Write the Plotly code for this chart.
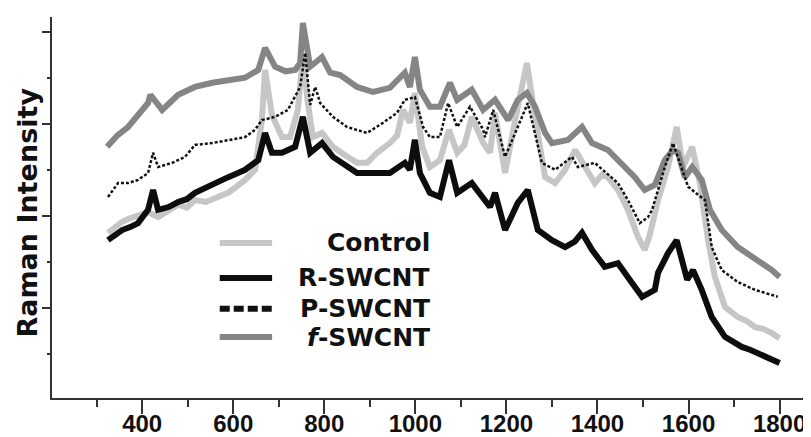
"""Raman spectra of control and SWCNT samples."""

import plotly.graph_objects as go

# Raman shift (cm-1) and intensity (a.u.), one pair per series
control_x = [325, 340, 356, 372, 391, 413, 435, 458, 479, 498, 516, 540, 565,
             589, 608, 626, 648, 663, 670, 685, 707, 725, 742, 753, 763, 775,
             795, 819, 845, 872, 894, 916, 944, 960, 973, 988, 999, 1015, 1032,
             1054, 1074, 1092, 1108, 1124, 1149, 1164, 1175, 1197, 1225, 1245,
             1263, 1285, 1307, 1329, 1351, 1373, 1394, 1410, 1423, 1445, 1467,
             1489, 1504, 1515, 1533, 1555, 1574, 1588, 1608, 1625, 1643, 1658,
             1680, 1708, 1730, 1746, 1765, 1783, 1800]
control_y = [3.59, 3.70, 3.83, 3.90, 3.98, 4.04, 3.93, 4.08, 4.20, 4.14, 4.30,
             4.26, 4.38, 4.46, 4.60, 4.74, 4.96, 6.04, 7.13, 6.15, 5.67, 5.67,
             6.26, 7.46, 6.48, 5.67, 5.76, 5.46, 5.28, 5.11, 5.11, 5.33, 5.54,
             5.70, 6.26, 5.98, 6.63, 5.46, 5.02, 5.17, 5.83, 5.33, 5.50, 6.11,
             5.54, 5.33, 6.20, 4.89, 6.33, 7.28, 6.11, 4.80, 4.67, 4.96, 5.39,
             5.02, 4.67, 4.85, 4.80, 4.52, 4.09, 3.50, 3.22, 3.55, 4.30, 5.02,
             5.89, 5.02, 5.46, 4.67, 3.43, 2.63, 1.98, 1.76, 1.66, 1.54, 1.50,
             1.41, 1.30]

r_x = [325, 347, 356, 375, 391, 413, 424, 435, 458, 479, 498, 516, 535, 554,
       572, 589, 608, 626, 655, 670, 685, 707, 736, 753, 769, 795, 819, 850,
       872, 907, 944, 977, 988, 999, 1010, 1032, 1054, 1074, 1092, 1124, 1145,
       1164, 1175, 1197, 1225, 1247, 1269, 1300, 1329, 1350, 1366, 1388, 1416,
       1445, 1476, 1498, 1526, 1533, 1555, 1574, 1597, 1610, 1629, 1651, 1680,
       1700, 1717, 1735, 1752, 1775, 1800]
r_y = [3.43, 3.61, 3.65, 3.72, 3.80, 4.09, 4.52, 4.09, 4.15, 4.26, 4.32, 4.46,
       4.55, 4.67, 4.72, 4.80, 4.88, 4.96, 5.17, 5.76, 5.33, 5.33, 5.46, 6.11,
       5.33, 5.54, 5.24, 5.02, 4.89, 4.89, 4.89, 5.11, 4.96, 5.61, 4.89, 4.46,
       4.37, 5.17, 4.46, 4.67, 4.40, 4.15, 4.46, 3.65, 4.24, 4.52, 3.65, 3.43,
       3.28, 3.40, 3.59, 3.22, 2.85, 2.93, 2.50, 2.20, 2.35, 2.72, 3.15, 3.43,
       2.57, 2.78, 2.35, 1.76, 1.33, 1.22, 1.11, 1.05, 0.98, 0.88, 0.76]

p_x = [325, 347, 369, 391, 413, 424, 435, 466, 494, 516, 554, 589, 626, 648,
       663, 692, 720, 747, 758, 769, 780, 791, 819, 850, 894, 929, 960, 977,
       999, 1017, 1032, 1054, 1072, 1092, 1120, 1149, 1153, 1171, 1197, 1225,
       1247, 1278, 1307, 1344, 1357, 1394, 1445, 1467, 1493, 1511, 1520, 1548,
       1566, 1599, 1636, 1651, 1673, 1708, 1746, 1796]
p_y = [4.37, 4.67, 4.67, 4.74, 4.89, 5.33, 5.02, 5.11, 5.24, 5.50, 5.54, 5.61,
       5.67, 5.83, 6.04, 6.11, 6.26, 6.76, 7.50, 6.37, 6.76, 6.41, 6.11, 5.89,
       5.76, 5.98, 6.20, 6.48, 6.54, 5.89, 5.67, 5.67, 6.41, 5.89, 6.33, 5.83,
       5.67, 6.26, 5.24, 5.89, 6.41, 5.11, 4.96, 5.24, 5.02, 5.11, 4.67, 4.30,
       3.80, 3.93, 4.09, 5.02, 5.54, 4.59, 4.30, 3.28, 2.78, 2.52, 2.35, 2.20]

f_x = [323, 345, 369, 392, 413, 418, 444, 479, 516, 554, 589, 626, 655, 670,
       692, 715, 736, 747, 753, 769, 795, 813, 835, 872, 907, 944, 977, 988,
       999, 1010, 1032, 1054, 1076, 1092, 1124, 1149, 1175, 1204, 1225, 1245,
       1263, 1285, 1300, 1335, 1366, 1388, 1423, 1445, 1482, 1504, 1526, 1548,
       1566, 1577, 1592, 1608, 1629, 1647, 1673, 1708, 1730, 1746, 1765, 1783,
       1800]
f_y = [5.46, 5.70, 5.89, 6.15, 6.41, 6.59, 6.26, 6.59, 6.76, 6.85, 6.91, 6.96,
       7.13, 7.61, 7.20, 7.10, 7.13, 7.28, 8.15, 7.20, 7.41, 7.07, 7.02, 6.76,
       6.65, 6.74, 7.07, 6.76, 7.41, 6.70, 6.33, 6.33, 6.85, 6.48, 6.70, 6.26,
       6.48, 6.04, 6.48, 6.63, 6.33, 5.76, 5.54, 5.61, 5.89, 5.54, 5.39, 5.17,
       4.80, 4.52, 4.63, 5.17, 5.39, 5.33, 4.80, 5.02, 4.74, 4.09, 3.65, 3.28,
       3.12, 3.00, 2.90, 2.78, 2.63]

series = [
    ('Control', control_x, control_y, '#c6c6c6', 6, 'solid'),
    ('R-SWCNT', r_x, r_y, '#0d0d0d', 6, 'solid'),
    ('P-SWCNT', p_x, p_y, '#111111', 2.5, '3px,2px'),
    ('<i>f</i>-SWCNT', f_x, f_y, '#858585', 6, 'solid'),
]

fig = go.Figure()

# draw light curves first so the darker ones sit on top
for name, xs, ys, color, width, dash in [series[0], series[3], series[1], series[2]]:
  fig.add_trace(
      go.Scatter(
          x=xs,
          y=ys,
          mode='lines',
          name=name,
          line=dict(color=color, width=width, dash=dash),
          showlegend=False,
      )
  )

# hand-built legend: sample line on the left, label right-aligned
legend_rows = [0.407, 0.315, 0.234, 0.160]
for (name, _, _, color, width, dash), row in zip(series, legend_rows):
  fig.add_shape(
      type='line', xref='paper', yref='paper',
      x0=0.221, x1=0.290, y0=row, y1=row,
      line=dict(color=color, width=6, dash='10px,4px' if dash != 'solid' else 'solid'),
  )
  fig.add_annotation(
      xref='paper', yref='paper', x=0.501, y=row,
      xanchor='right', yanchor='middle', showarrow=False,
      text=name,
      font=dict(family='DejaVu Sans', size=25, weight='bold', color='#111111'),
  )

# y-axis title as a rotated annotation so it does not push the margin
fig.add_annotation(
    xref='paper', yref='paper', x=-0.032, y=0.486,
    xanchor='center', yanchor='middle', showarrow=False, textangle=-90,
    text='Raman Intensity',
    font=dict(family='DejaVu Sans', size=27, weight='bold', color='#111111'),
)

tick_font = dict(family='Liberation Sans', size=24, weight='bold', color='#111111')

# the page body adds an 8px offset, so the figure is 8px smaller each way
fig.update_layout(
    width=803,
    height=429,
    margin=dict(l=44, r=0, t=9, b=39),
    plot_bgcolor='white',
    paper_bgcolor='white',
    xaxis=dict(
        range=[202, 1869],
        automargin=False,
        showgrid=False,
        zeroline=False,
        showline=True,
        linecolor='#333333',
        linewidth=2,
        ticks='outside',
        ticklen=14,
        tickwidth=2,
        tickcolor='#333333',
        tick0=0,
        dtick=200,
        tickfont=tick_font,
        ticklabelstandoff=-11,
        minor=dict(ticks='outside', ticklen=7, tickwidth=2, tickcolor='#333333',
                   tick0=0, dtick=100),
    ),
    yaxis=dict(
        range=[0, 8.28],
        automargin=False,
        showgrid=False,
        zeroline=False,
        showline=True,
        linecolor='#333333',
        linewidth=2,
        ticks='outside',
        ticklen=8,
        tickwidth=2,
        tickcolor='#333333',
        tick0=-0.04,
        dtick=2,
        showticklabels=False,
        minor=dict(ticks='outside', ticklen=3, tickwidth=2, tickcolor='#333333',
                   tick0=-0.04, dtick=1),
    ),
)

fig.write_html('out.html')
